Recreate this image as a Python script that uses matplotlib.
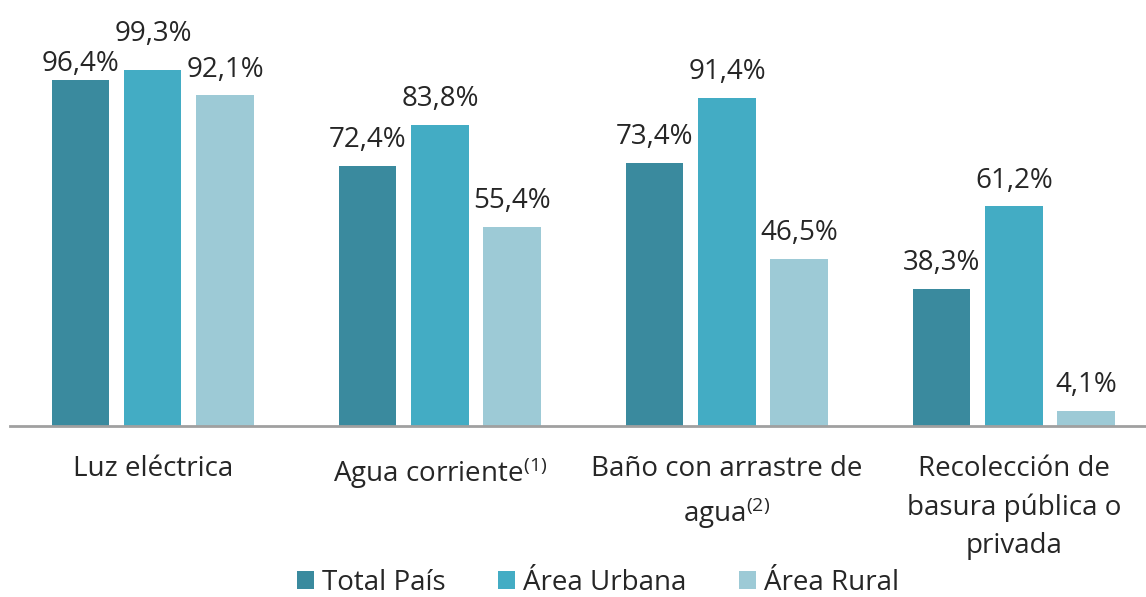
import numpy as np
import matplotlib.pyplot as plt

plt.rcParams['font.family'] = ['Open Sans', 'DejaVu Sans']
plt.rcParams['mathtext.fontset'] = 'custom'
plt.rcParams['mathtext.rm'] = 'Open Sans'
plt.rcParams['mathtext.it'] = 'Open Sans'

categorias = ["Luz eléctrica", "Agua corriente$^{(1)}$",
              "Baño con arrastre de\nagua$^{(2)}$",
              "Recolección de\nbasura pública o\nprivada"]
series = ["Total País", "Área Urbana", "Área Rural"]
total_pais = [96.4, 72.4, 73.4, 38.3]
area_urbana = [99.3, 83.8, 91.4, 61.2]
area_rural = [92.1, 55.4, 46.5, 4.1]
colores = ["#3A8A9E", "#43ACC4", "#9DCAD6"]

fig = plt.figure(figsize=(11.46, 5.97), dpi=100)
ax = fig.add_axes([10 / 1146, (597 - 426) / 597, 1136 / 1146, 426 / 597])

# las etiquetas de "Luz eléctrica" se desplazan para que no se pisen
ajuste = {(0, 0): -7.2, (1, 0): 7.2}

x = np.arange(len(categorias))
ancho = 0.199
paso = 0.251
valores = [total_pais, area_urbana, area_rural]
for i, (nombre, vals, c) in enumerate(zip(series, valores, colores)):
    pos = x + (i - 1) * paso
    ax.bar(pos, vals, width=ancho, color=c, label=nombre)
    for j, (p, v) in enumerate(zip(pos, vals)):
        dy = 8.5 + ajuste.get((i, j), 0)
        ax.annotate(f"{v:.1f}%".replace(".", ","), (p, v), xytext=(0, dy),
                    textcoords="offset points", ha="center", va="bottom",
                    fontsize=20, color="#262626")

ax.set_xlim(-0.498, 3.46)
ax.set_ylim(0, 118.7)
ax.set_yticks([])
ax.set_xticks([])
for s in ["top", "right", "left"]:
    ax.spines[s].set_visible(False)
ax.spines["bottom"].set_color("#A0A0A0")
ax.spines["bottom"].set_linewidth(2)

for xi, cat in zip(x, categorias):
    ax.annotate(cat, (xi, 0), xytext=(0, -21), textcoords="offset points",
                ha="center", va="top", fontsize=20, color="#262626",
                linespacing=1.48, annotation_clip=False)

leg = fig.legend(loc="center", bbox_to_anchor=(0.522, 14 / 597),
                 ncol=3, frameon=False, fontsize=20, handlelength=0.6,
                 handleheight=0.6, handletextpad=0.3, columnspacing=1.9,
                 borderpad=0)
for t in leg.get_texts():
    t.set_color("#262626")

fig.savefig("out.png", dpi=100)
